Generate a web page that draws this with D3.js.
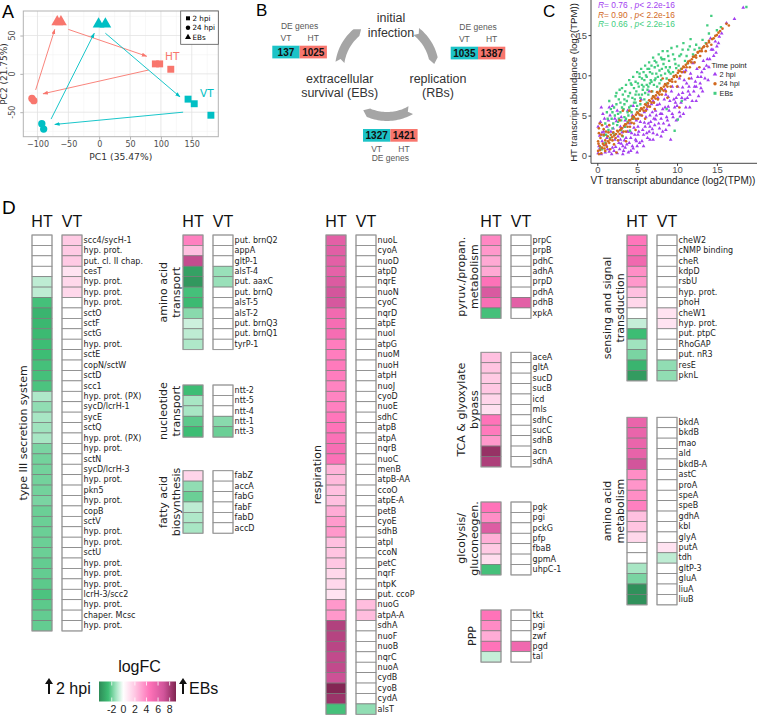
<!DOCTYPE html>
<html><head><meta charset="utf-8">
<script src="https://cdn.jsdelivr.net/npm/d3@7"></script>
<style>body{margin:0;background:#fff}svg{display:block}</style>
</head><body>
<svg id="c" width="757" height="716"></svg>
<script>
// ================= DATA =================
// Panel A: PCA
const pcaX    = [91, 98, 116, -109, -106, -68, -62, 144, 154, 181, -93, -90, -1, 10];
const pcaY    = [13, 13, 6, -32, -35, 68, 68, -33, -39, -54, -65, -72, 65, 65];
const pcaHost = ["HT","HT","HT","HT","HT","HT","HT","VT","VT","VT","VT","VT","VT","VT"];
const pcaTime = ["2 hpi","2 hpi","2 hpi","24 hpi","24 hpi","EBs","EBs","2 hpi","2 hpi","2 hpi","24 hpi","24 hpi","EBs","EBs"];
const pcaArrowFrom = [[-50,58],[80,5],[-103,-21],[10,53],[136,-50],[-78,-59]];
const pcaArrowTo   = [[77,23],[-91,-26],[-72,58],[131,-30],[-72,-66],[-8,53]];
const pcaArrowHost = ["HT","HT","HT","VT","VT","VT"];
const pcaXTicks = [-100,-50,0,50,100,150];
const pcaYTicks = [-50,0,50];
const timeLevels = ["2 hpi","24 hpi","EBs"];

// Panel B: DE genes
const deBoxVT = [137, 1035, 1327];
const deBoxHT = [1025, 1387, 1421];

// Panel C: transcript abundance (log2 TPM), VT (x) vs HT (y)
const sc2hpi = [[0.1,0.3],[0.2,1.2],[0.3,2.5],[0.1,3.6],[0.5,0.2],[0.6,1.8],[0.8,3.0],[0.7,5.2],[1.0,0.4],[1.2,2.2],[1.4,4.4],[1.5,6.0],[1.1,1.3],[1.8,0.2],[1.9,1.0],[2.0,3.4],[1.6,5.0],[0.4,4.2],[0.9,2.6],[2.2,2.0],
[2.5,0.3],[2.8,0.8],[3.0,1.5],[3.2,0.2],[3.5,1.0],[3.6,2.2],[3.9,0.4],[4.0,1.6],[4.3,2.8],[4.5,0.9],[4.6,3.5],[4.8,2.0],[5.0,1.2],[5.2,3.0],[5.4,4.2],[5.6,1.8],[5.8,2.6],[6.0,3.6],[6.1,4.8],[3.1,2.9],[2.6,2.4],[3.4,3.6],[4.1,4.0],[2.4,4.3],[3.0,4.8],
[6.3,2.2],[6.5,3.0],[6.7,4.2],[6.9,5.4],[7.0,2.8],[7.2,3.8],[7.4,5.0],[7.5,6.3],[7.8,3.4],[8.0,4.6],[8.2,5.8],[8.4,7.0],[8.6,3.2],[8.8,4.4],[9.0,5.6],[9.1,6.8],[9.3,8.0],[9.5,4.8],[9.7,6.0],[9.9,7.2],[10.1,8.6],[6.2,5.8],[6.8,6.4],[7.6,7.2],[8.5,8.2],[9.2,2.0],
[10.3,5.4],[10.5,6.6],[10.7,7.8],[10.9,9.4],[11.1,6.0],[11.3,7.2],[11.5,8.6],[11.7,10.2],[11.9,6.8],[12.1,8.0],[12.3,9.2],[12.5,10.8],[12.7,7.4],[12.9,9.0],[13.1,10.4],[13.3,11.8],[13.5,9.6],[13.8,12.0],[14.0,11.0],[14.3,13.2],[10.8,10.4],[12.0,11.5],
[14.6,12.4],[14.8,14.2],[15.0,13.6],[15.3,14.8],[15.6,15.2],[14.2,14.6],[16.2,16.5],[17.2,17.0],[18.3,18.4],[5.5,7.0],[6.5,8.0],[4.5,6.2],[3.8,5.6],
[1.3,0.8],[2.7,1.6],[3.3,0.6],[4.2,2.2],[5.1,2.6],[5.9,4.1],[6.6,3.6],[7.3,4.5],[8.1,5.2],[8.9,6.1],[9.8,6.6],[10.6,7.2],[11.4,8.0],[12.4,8.6],[13.0,9.8],[2.1,0.6],[3.7,1.4],[4.9,1.8],
[1.5,0.5],[2.3,1.1],[2.9,2.0],[3.4,1.9],[3.8,3.0],[4.4,1.2],[4.7,2.6],[5.1,3.6],[5.3,1.6],[5.7,3.2],[6.2,2.8],[6.4,4.0],[6.6,5.0],[6.9,3.3],[7.1,4.6],[7.3,5.6],[7.7,4.0],[7.9,5.2],[8.3,4.0],[8.5,6.0],
[8.7,4.8],[8.9,7.3],[9.4,5.2],[9.6,7.0],[10.0,6.2],[10.2,7.6],[10.4,4.9],[10.7,8.5],[11.0,7.0],[11.2,9.0],[11.6,7.6],[11.8,9.6],[12.2,8.6],[12.6,9.8],[13.0,8.4],[13.4,10.8],[13.7,11.2],[14.1,12.0],[14.5,13.2],[14.9,12.8],
[15.2,14.0],[0.3,0.9],[0.6,2.9],[0.9,4.6],[1.2,3.6],[1.7,3.0],[2.2,4.6],[2.5,5.6],[1.9,6.2],[0.5,6.0],[2.9,3.6],[3.5,4.4],[4.0,3.0],[4.4,5.0],[4.9,4.4],[5.5,5.0],[5.9,5.4],[6.4,6.2],[7.0,6.8],[7.8,6.4],
[8.6,7.6],[9.4,8.6],[10.3,9.6],[11.1,10.6],[3.2,1.2],[4.2,0.6],[5.0,0.4],[5.8,1.2],[6.6,2.0],[7.5,2.6],[8.2,3.0],[9.0,3.8],[9.9,4.4],[10.8,5.2],[11.6,6.0],[12.4,6.8],[13.2,8.0],[13.9,9.4],[8.0,2.4],[7.0,2.0]];
const scEBs = [[0.8,2.5],[1.0,4.0],[1.2,5.4],[1.4,3.2],[1.5,6.8],[1.8,4.6],[2.0,2.8],[2.1,6.0],[2.3,7.4],[2.5,3.8],[2.6,5.2],[2.8,8.2],[2.9,6.6],[3.0,4.4],[3.2,7.6],[3.3,5.8],[3.5,3.6],[3.6,8.8],[3.7,6.8],[3.9,5.0],
[4.0,9.4],[4.1,7.8],[4.2,6.2],[4.4,4.8],[4.5,9.8],[4.6,8.4],[4.7,7.0],[4.9,5.8],[5.0,10.4],[5.1,9.0],[5.2,7.6],[5.4,6.4],[5.5,10.8],[5.6,9.6],[5.7,8.2],[5.9,7.0],[6.0,11.2],[6.1,10.0],[6.2,8.8],[6.4,7.6],
[6.5,11.6],[6.6,10.4],[6.8,9.2],[6.9,8.0],[7.0,12.2],[7.2,11.0],[7.3,9.6],[7.5,8.6],[7.7,12.6],[7.8,10.6],[8.0,9.4],[8.2,13.0],[8.3,11.4],[8.5,10.2],[8.7,9.6],[8.9,12.4],[9.1,11.0],[9.3,13.4],[9.5,10.4],[9.7,12.0],
[10.0,13.6],[10.2,11.2],[10.5,12.6],[10.8,14.0],[11.0,11.8],[11.4,13.2],[11.7,14.5],[12.0,12.6],[12.4,13.8],[12.8,13.4],[13.2,14.4],[13.6,14.0],[14.0,15.2],[14.3,17.4],[13.8,16.2],[15.0,15.6],[15.5,16.0],[18.7,18.5],
[0.4,1.0],[0.6,0.8],[1.0,1.6],[1.6,2.2],[2.2,2.6],[3.0,3.2],[3.8,4.2],[4.5,4.6],[5.3,5.6],[6.2,6.6],[7.0,7.4],[7.9,8.2],[8.8,9.0],[9.6,9.8],[10.5,10.8],[11.3,11.5],[12.2,12.4],
[9.7,3.1],[10.1,4.5],[8.7,5.8],[10.6,6.8],[4.1,3.1],[3.2,2.4],
[2.4,6.4],[3.4,7.0],[4.3,8.8],[5.3,9.8],[6.3,10.8],[7.4,11.6],[8.1,12.0],[3.1,6.0],[4.8,7.6],[5.8,8.6],[6.7,9.4],[1.9,5.4],[2.7,4.6],[3.8,5.4],[7.6,9.8],[9.0,10.4],
[1.3,4.6],[1.7,5.8],[2.0,4.0],[2.2,5.0],[2.4,7.8],[2.7,7.0],[2.9,5.4],[3.1,8.4],[3.4,6.4],[3.5,8.0],[3.6,4.6],[3.9,7.4],[4.0,6.0],[4.2,9.0],[4.3,5.4],[4.4,7.2],[4.6,6.6],[4.8,9.2],[4.9,8.0],[5.0,6.2],
[5.2,8.6],[5.3,10.2],[5.4,7.2],[5.6,8.8],[5.8,10.4],[5.9,9.4],[6.0,7.8],[6.2,9.8],[6.3,8.2],[6.5,10.8],[6.6,9.0],[6.8,11.2],[6.9,10.2],[7.1,8.8],[7.2,11.8],[7.4,10.2],[7.6,11.2],[7.8,9.0],[8.0,12.2],[8.1,10.8],
[8.4,12.0],[8.6,11.0],[8.8,13.0],[9.0,11.8],[9.2,10.2],[9.5,12.6],[9.8,11.4],[10.3,12.4],[10.7,13.2],[11.2,12.4],[11.6,13.6],[12.2,13.2],[1.1,2.6],[1.9,3.4],[2.6,4.2],[3.4,4.8],[4.1,5.6],[4.8,6.6],[5.6,7.6],[6.4,8.6],
[7.2,9.4],[8.0,10.0],[8.9,10.6],[9.9,10.9]];
const sc24hpi = [[0.1,0.6],[0.1,1.8],[0.2,2.8],[0.2,3.4],[0.3,1.2],[0.4,2.2],[0.5,0.3],[0.6,3.8],[0.7,1.5],[0.8,2.6],[0.9,0.9],[1.0,1.9],[1.1,3.0],[1.2,1.1],[1.3,2.4],[1.5,1.6],[1.6,0.8],[1.7,2.6],[1.9,1.9],[2.0,2.9],
[2.1,1.4],[2.3,2.2],[2.5,3.1],[2.6,1.9],[2.8,2.7],[3.0,3.4],[3.1,2.5],[3.3,3.0],[3.5,3.9],[3.6,3.0],[3.8,3.6],[4.0,4.4],[4.1,3.6],[4.3,4.1],[4.5,4.9],[4.6,4.0],[4.8,4.6],[5.0,5.4],[5.1,4.6],[5.3,5.1],
[5.5,5.9],[5.6,5.0],[5.8,5.6],[6.0,6.4],[6.1,5.6],[6.3,6.1],[6.5,6.9],[6.6,6.1],[6.8,6.6],[7.0,7.4],[7.1,6.6],[7.3,7.1],[7.5,7.9],[7.6,7.0],[7.8,7.6],[8.0,8.4],[8.1,7.6],[8.3,8.1],[8.5,8.9],[8.6,8.0],
[8.8,8.6],[9.0,9.4],[9.2,8.6],[9.4,9.2],[9.6,9.9],[9.8,9.2],[10.0,9.8],[10.2,10.6],[10.4,9.9],[10.6,10.4],[10.8,11.1],[11.0,10.4],[11.2,11.0],[11.4,11.7],[11.6,11.0],[11.8,11.6],[12.0,12.3],[12.2,11.6],[12.4,12.2],[12.6,12.9],
[12.9,12.4],[13.1,13.0],[13.3,13.5],[13.6,13.0],[13.8,13.6],[14.0,14.3],[14.3,13.8],[14.6,14.6],[15.0,15.0],[15.4,15.5],[16.2,16.4],[16.5,16.2],
[2.4,0.4],[3.6,1.8],[4.8,3.2],[6.0,4.6],[7.2,5.8],[8.8,7.2],[10.0,8.6],[10.3,6.0],[11.5,9.6],[12.8,11.0],[1.5,3.8],[2.8,4.4],[4.0,5.6],[5.4,6.8],[6.8,8.0],[8.2,9.6],[3.2,5.6],
[0.35,0.7],[0.6,1.0],[0.85,1.3],[1.1,1.5],[1.35,1.8],[1.6,2.0],[1.85,2.3],[2.1,2.5],[2.35,2.7],[2.6,3.0],[2.85,3.2],[3.1,3.4],[3.35,3.7],[3.6,3.9],[3.85,4.1],[4.1,4.4],[4.35,4.6],[4.6,4.8],[4.85,5.1],[5.1,5.3],
[5.35,5.6],[5.6,5.8],[5.85,6.0],[6.1,6.3],[6.35,6.5],[6.6,6.8],[6.85,7.1],[7.1,7.3],[7.35,7.5],[7.6,7.8],[7.85,8.0],[8.1,8.3],[8.35,8.6],[8.6,8.8],[8.85,9.0],[9.1,9.3],[9.35,9.5],[9.6,9.8],[9.85,10.0],[10.1,10.3],
[10.35,10.5],[10.6,10.8],[10.85,11.0],[11.1,11.3],[11.35,11.5],[11.6,11.8],[11.85,12.0],[12.1,12.3],[12.35,12.5],[12.6,12.8],[12.85,13.0],[13.1,13.3],[13.4,13.6],[13.7,13.9],[14.0,14.1],[14.4,14.5],[14.8,14.9],[15.2,15.3],[15.7,15.8],
[0.2,0.2],[0.3,4.0],[0.5,2.6],[0.8,3.3],[1.0,0.6],[1.4,2.9],[0.15,1.5]];
const corrR = ["0.76","0.90","0.66"];
const scXTicks = [0,5,10,15];
const scYTicks = [0,5,10,15];

// Panel D: logFC heatmaps (HT, VT)
const t3Genes = ["scc4/sycH-1","hyp. prot.","put. cl. II chap.","cesT","hyp. prot.","hyp. prot.","hyp. prot.","sctO","sctF","sctG","hyp. prot.","sctE","copN/sctW","sctD","scc1","hyp. prot. (PX)","sycD/lcrH-1","sycE","sctQ","hyp. prot. (PX)","hyp. prot.","sctN","sycD/lcrH-3","hyp. prot.","pkn5","hyp. prot.","copB","sctV","hyp. prot.","hyp. prot.","sctU","hyp. prot.","hyp. prot.","hyp. prot.","lcrH-3/scc2","hyp. prot.","chaper. Mcsc","hyp. prot."];
const t3HT = [0,0,0,0,-0.9,-0.9,-2.5,-2.9,-2.8,-2.7,-2.6,-2.6,-2.5,-2.5,-2.4,-1.1,-1.5,-1.2,-1.3,-1.2,-1.8,-1.9,-1.9,-1.9,-1.9,-1.8,-2.0,-2.0,-2.0,-2.0,-2.0,-2.1,-2.1,-2.2,-2.4,-2.2,-2.1,-2.1];
const t3VT = [1.9,1.9,1.9,1.0,1.4,1.4,0,0,0,0,0,0,0,0,0,0,0,0,0,0,0,0,0,0,0,0,0,0,0,0,0,0,0,0,0,0,0,0];

const aatGenes = ["put. brnQ2","appA","gltP-1","alsT-4","put. aaxC","put. brnQ","alsT-5","alsT-2","put. brnQ3","put. brnQ1","tyrP-1"];
const aatHT = [4.1,2.2,7.3,-3.5,-3.8,-2.5,-2.7,-1.6,-0.7,-0.9,-1.1];
const aatVT = [0,0,0,-1.4,-1.4,0,0,0,0,0,0];

const nucGenes = ["ntt-2","ntt-5","ntt-4","ntt-1","ntt-3"];
const nucHT = [-2.6,-1.2,-1.2,-2.2,-2.6];
const nucVT = [0,0,0,-1.6,-2.0];

const fatGenes = ["fabZ","accA","fabG","fabF","fabD","accD"];
const fatHT = [1.5,-1.5,-2.0,-0.9,-1.1,-1.2];
const fatVT = [0,0,0,0,0,0];

const resGenes = ["nuoL","cyoA","nuoD","atpD","nqrE","nuoN","cyoC","nqrD","atpE","nuoI","atpG","nuoM","nuoH","atpH","nuoJ","cyoD","nuoE","sdhC","atpB","atpA","nqrB","nuoC","menB","atpB-AA","ccoO","atpE-A","petB","cyoE","sdhB","atpI","ccoN","petC","nqrF","ntpK","put. ccoP","nuoG","atpA-A","sdhA","nuoF","nuoB","nqrC","nuoA","cydB","cyoB","cydA","alsT"];
const resHT = [6.0,6.1,6.0,5.9,6.4,6.8,6.7,5.2,5.0,5.0,4.2,4.2,4.3,4.2,4.0,4.0,4.1,4.4,4.5,4.7,4.9,4.7,2.6,2.4,2.2,2.2,2.8,3.3,3.4,2.2,2.1,2.0,1.4,1.4,1.0,3.4,3.4,7.8,7.7,7.6,7.4,7.4,7.1,9.0,8.4,-2.5];
const resVT = [0,0,0,0,0,0,0,0,0,0,0,0,0,0,0,0,0,0,0,0,0,0,0,0,0,0,0,0,0,0,0,0,0,0,0,2.3,2.3,0,0,0,0,0,0,0,0,-1.5];

const pyrGenes = ["prpC","prpB","pdhC","adhA","prpD","pdhA","pdhB","xpkA"];
const pyrHT = [3.9,3.4,2.9,2.9,4.6,6.5,4.8,-2.5];
const pyrVT = [0,0,0,0,0,0,6.0,0];

const tcaGenes = ["aceA","gltA","sucD","sucB","icd","mls","sdhC","sucC","sdhB","acn","sdhA"];
const tcaHT = [2.2,2.1,1.9,2.0,1.5,1.1,4.5,4.3,3.4,8.5,7.9];
const tcaVT = [0,0,0,0,0,0,0,0,0,0,0];

const glyGenes = ["pgk","pgi","pckG","pfp","fbaB","gpmA","uhpC-1"];
const glyHT = [4.5,3.7,6.3,2.7,1.9,1.2,-2.5];
const glyVT = [0,0,0,0,0,0,0];

const pppGenes = ["tkt","pgi","zwf","pgd","tal"];
const pppHT = [4.5,3.8,2.8,4.5,-0.8];
const pppVT = [0,0,0,5.3,0];

const senGenes = ["cheW2","cNMP binding","cheR","kdpD","rsbU","hyp. prot.","phoH","cheW1","hyp. prot.","put. ptpC","RhoGAP","put. nR3","resE","pknL"];
const senHT = [4.4,4.7,5.3,3.7,3.4,2.2,1.4,0,-0.8,-2.6,-1.3,-1.8,-2.9,-3.7];
const senVT = [0,0,0,0,0,0,0,1.0,1.0,0,0,0,-1.5,-1.5];

const aamGenes = ["bkdA","bkdB","mao","ald","bkdB-A","astC","proA","speA","speB","gdhA","kbl","glyA","putA","tdh","gltP-3","gluA","liuA","liuB"];
const aamHT = [5.6,5.6,5.6,5.8,6.9,3.7,3.5,3.7,4.1,2.2,2.1,1.4,0,0,-1.2,-1.8,-4.0,-4.0];
const aamVT = [0,0,0,0,0,0,0,0,0,0,0,0,1.0,-0.9,0,0,0,0];

const legendTicks = [-2,0,2,4,6,8];
const logFCLimits = [-4.2, 9.1];

// ================= DRAWING =================
const svg = d3.select("#c");
const defs = svg.append("defs");
const FV = "'DejaVu Sans', Verdana, sans-serif";
const FA = "'Liberation Sans', Arial, sans-serif";
const hostColor = d3.scaleOrdinal().domain(["HT","VT"]).range(["#f8766d","#00bfc4"]);

function letter(t, x, y, s) {
  svg.append("text").attr("x", x).attr("y", y).attr("font-family", FA)
    .attr("font-size", s).attr("fill", "#000").text(t);
}

// ---------- Panel A ----------
(function(){
  const x = d3.scaleLinear().domain([-123,193]).range([23.3,218.3]);
  const y = d3.scaleLinear().domain([-82,82]).range([136.7,11]);
  const g = svg.append("g");
  const minorX = [-75,-25,25,75,125,175], minorY = [-75,-25,25,75];
  g.selectAll(".mx").data(minorX).join("line").attr("x1",x).attr("x2",x).attr("y1",y.range()[1]).attr("y2",y.range()[0]).attr("stroke","#f0f0f0").attr("stroke-width",0.5);
  g.selectAll(".my").data(minorY).join("line").attr("y1",y).attr("y2",y).attr("x1",x.range()[0]).attr("x2",x.range()[1]).attr("stroke","#f0f0f0").attr("stroke-width",0.5);
  g.selectAll(".Mx").data(pcaXTicks).join("line").attr("x1",x).attr("x2",x).attr("y1",y.range()[1]).attr("y2",y.range()[0]).attr("stroke","#e2e2e2").attr("stroke-width",0.8);
  g.selectAll(".My").data(pcaYTicks).join("line").attr("y1",y).attr("y2",y).attr("x1",x.range()[0]).attr("x2",x.range()[1]).attr("stroke","#e2e2e2").attr("stroke-width",0.8);
  g.append("rect").attr("x",23.3).attr("y",11).attr("width",195).attr("height",125.7).attr("fill","none").attr("stroke","#b3b3b3").attr("stroke-width",1);
  const ax = g.append("g").attr("transform","translate(0,136.7)").call(d3.axisBottom(x).tickValues(pcaXTicks).tickSize(3).tickPadding(2));
  ax.select(".domain").remove();
  ax.selectAll("line").attr("stroke","#b3b3b3");
  ax.selectAll("text").attr("font-family",FV).attr("font-size",8).attr("fill","#4d4d4d");
  const ay = g.append("g").attr("transform","translate(23.3,0)").call(d3.axisLeft(y).tickValues(pcaYTicks).tickSize(3).tickFormat(""));
  ay.select(".domain").remove();
  ay.selectAll("line").attr("stroke","#b3b3b3");
  g.selectAll(".ytl").data(pcaYTicks).join("text").attr("transform",d=>`translate(15,${y(d)}) rotate(-90)`)
    .attr("text-anchor","middle").attr("font-family",FV).attr("font-size",8).attr("fill","#4d4d4d").text(d=>d);
  g.append("text").attr("x",120.8).attr("y",159.5).attr("text-anchor","middle").attr("font-family",FV).attr("font-size",9.2).attr("fill","#333").text("PC1 (35.47%)");
  g.append("text").attr("transform","translate(7,74) rotate(-90)").attr("text-anchor","middle").attr("font-family",FV).attr("font-size",9).attr("fill","#333").text("PC2 (21.75%)");
  // arrows
  ["HT","VT"].forEach(h=>{
    defs.append("marker").attr("id","ar"+h).attr("viewBox","0 0 10 10").attr("refX",9).attr("refY",5)
      .attr("markerWidth",6).attr("markerHeight",6).attr("orient","auto")
      .append("path").attr("d","M0,1.5L10,5L0,8.5Z").attr("fill",hostColor(h));
  });
  g.selectAll(".arr").data(pcaArrowHost).join("line")
    .attr("x1",(d,i)=>x(pcaArrowFrom[i][0])).attr("y1",(d,i)=>y(pcaArrowFrom[i][1]))
    .attr("x2",(d,i)=>x(pcaArrowTo[i][0])).attr("y2",(d,i)=>y(pcaArrowTo[i][1]))
    .attr("stroke",d=>hostColor(d)).attr("stroke-width",0.9).attr("marker-end",d=>`url(#ar${d})`);
  const shape = d3.scaleOrdinal().domain(timeLevels).range([d3.symbolSquare,d3.symbolCircle,d3.symbolTriangle]);
  const size = d3.scaleOrdinal().domain(timeLevels).range([48,42,60]);
  g.selectAll(".pt").data(pcaX).join("path")
    .attr("transform",(d,i)=>`translate(${x(d)},${y(pcaY[i])})`)
    .attr("d",(d,i)=>d3.symbol().type(shape(pcaTime[i])).size(size(pcaTime[i]))())
    .attr("fill",(d,i)=>hostColor(pcaHost[i]));
  g.append("text").attr("x",165).attr("y",60).attr("font-family",FV).attr("font-size",10.5).attr("fill",hostColor("HT")).text("HT");
  g.append("text").attr("x",200).attr("y",96.5).attr("font-family",FV).attr("font-size",10.5).attr("fill",hostColor("VT")).text("VT");
  // legend
  g.append("rect").attr("x",180.7).attr("y",11).attr("width",37.6).attr("height",33.3).attr("fill","#fff").attr("stroke","#555").attr("stroke-width",0.8);
  timeLevels.forEach((t,i)=>{
    const yy = 18.3 + i*9.5;
    g.append("path").attr("transform",`translate(188,${yy})`).attr("d",d3.symbol().type(shape(t)).size(16)()).attr("fill","#000");
    g.append("text").attr("x",192.5).attr("y",yy+2.6).attr("font-family",FV).attr("font-size",7.2).attr("fill","#000").text(t);
  });
  letter("A", 2, 18, 18);
})();

// ---------- Panel B ----------
(function(){
  const g = svg.append("g");
  const cx = 387, cy = 69, r0 = 43, r1 = 52;
  const rad = d=>d*Math.PI/180;
  const P = (a,r)=>[cx + r*Math.sin(rad(a)), cy - r*Math.cos(rad(a))];
  function arrowArc(a0,a1){
    const tip = 7, notch = 4, pts = [];
    const aE = a1 - tip;
    for (let a=a0; a<aE; a+=2) pts.push(P(a,r1));
    pts.push(P(aE,r1)); pts.push(P(a1,(r0+r1)/2)); pts.push(P(aE,r0));
    for (let a=aE; a>a0; a-=2) pts.push(P(a,r0));
    pts.push(P(a0,r0)); pts.push(P(a0+notch,(r0+r1)/2));
    return "M" + pts.map(p=>p[0].toFixed(2)+","+p[1].toFixed(2)).join("L") + "Z";
  }
  [[-82,-33],[38,84],[150,210]].forEach(a=>{
    g.append("path").attr("d",arrowArc(a[0],a[1])).attr("fill","#a5a5a5");
  });
  const tx = (t,x,y,s,fill,anchor,weight)=>g.append("text").attr("x",x).attr("y",y).attr("font-family",FA)
      .attr("font-size",s).attr("fill",fill).attr("text-anchor",anchor||"middle").attr("font-weight",weight||"normal").text(t);
  tx("initial",391,21.5,12.5,"#333"); tx("infection",391,37,12.5,"#333");
  tx("extracellular",339.7,83,12.5,"#333"); tx("survival (EBs)",339.7,97,12.5,"#333");
  tx("replication",438,83,12.5,"#333"); tx("(RBs)",438,97,12.5,"#333");
  const boxes = [{x:272.3,y:45.7,above:true},{x:450.7,y:46.7,above:true},{x:363,y:129,above:false}];
  const bw = 27.3, bh = 12.7;
  boxes.forEach((b,i)=>{
    g.append("rect").attr("x",b.x).attr("y",b.y).attr("width",bw).attr("height",bh).attr("fill","#1cc3c7");
    g.append("rect").attr("x",b.x+bw).attr("y",b.y).attr("width",bw).attr("height",bh).attr("fill","#f8766d");
    tx(deBoxVT[i], b.x+bw/2, b.y+bh/2+3.6, 10, "#111","middle","bold");
    tx(deBoxHT[i], b.x+bw*1.5, b.y+bh/2+3.6, 10, "#111","middle","bold");
    if (b.above){
      tx("DE genes", b.x+bw, b.y-16.5, 8.5, "#595959");
      tx("VT", b.x+bw/2, b.y-5, 8.5, "#595959");
      tx("HT", b.x+bw*1.5, b.y-5, 8.5, "#595959");
    } else {
      tx("VT", b.x+bw/2, b.y+bh+10, 8.5, "#595959");
      tx("HT", b.x+bw*1.5, b.y+bh+10, 8.5, "#595959");
      tx("DE genes", b.x+bw, b.y+bh+19, 8.5, "#595959");
    }
  });
  letter("B", 256, 16, 17);
})();

// ---------- Panel C ----------
(function(){
  const g = svg.append("g");
  const x = d3.scaleLinear().domain([0,15]).range([597.3,716.9]);
  const y = d3.scaleLinear().domain([0,15]).range([155.7,35.1]);
  const colors = d3.scaleOrdinal().domain(timeLevels).range(["#a33ef0","#d2691e","#43cd80"]);
  const shape = d3.scaleOrdinal().domain(timeLevels).range([d3.symbolTriangle,d3.symbolCircle,d3.symbolSquare]);
  defs.append("clipPath").attr("id","clipC").append("rect").attr("x",591).attr("y",0).attr("width",166).attr("height",163.3);
  const pg = g.append("g").attr("clip-path","url(#clipC)");
  const series = [["2 hpi",sc2hpi],["EBs",scEBs],["24 hpi",sc24hpi]];
  series.forEach(([t,pts])=>{
    pg.selectAll(null).data(pts).join("path")
      .attr("transform",d=>`translate(${x(d[0])},${y(d[1])})`)
      .attr("d",d3.symbol().type(shape(t)).size(t==="2 hpi"?6:5.5)())
      .attr("fill",colors(t));
  });
  g.append("line").attr("x1",591).attr("x2",591).attr("y1",0).attr("y2",163.3).attr("stroke","#333").attr("stroke-width",0.9);
  g.append("line").attr("x1",591).attr("x2",757).attr("y1",163.3).attr("y2",163.3).attr("stroke","#333").attr("stroke-width",0.9);
  const ax = g.append("g").attr("transform","translate(0,163.3)").call(d3.axisBottom(x).tickValues(scXTicks).tickSize(2.5).tickPadding(0.5));
  ax.select(".domain").remove();
  ax.selectAll("line").attr("stroke","#333");
  ax.selectAll("text").attr("font-family",FA).attr("font-size",9.5).attr("fill","#4d4d4d");
  const ay = g.append("g").attr("transform","translate(591,0)").call(d3.axisLeft(y).tickValues(scYTicks).tickSize(2.5).tickPadding(1.5));
  ay.select(".domain").remove();
  ay.selectAll("line").attr("stroke","#333");
  ay.selectAll("text").attr("font-family",FA).attr("font-size",9.5).attr("fill","#4d4d4d");
  g.append("text").attr("x",673).attr("y",183.5).attr("text-anchor","middle").attr("font-family",FA).attr("font-size",10).attr("fill","#222").text("VT transcript abundance (log2(TPM))");
  g.append("text").attr("transform","translate(576.5,82.5) rotate(-90)").attr("text-anchor","middle").attr("font-family",FA).attr("font-size",9.6).attr("fill","#222").text("HT transcript abundance (log2(TPM))");
  timeLevels.forEach((t,i)=>{
    const tt = g.append("text").attr("x",598).attr("y",8.3+i*9.3).attr("font-family",FA).attr("font-size",8.4).attr("fill",colors(t));
    tt.append("tspan").attr("font-style","italic").text("R");
    tt.append("tspan").text("= " + corrR[i] + " , ");
    tt.append("tspan").attr("font-style","italic").text("p");
    tt.append("tspan").text("< 2.2e-16");
  });
  g.append("text").attr("x",711.5).attr("y",68.3).attr("font-family",FA).attr("font-size",7.6).attr("fill","#222").text("Time point");
  timeLevels.forEach((t,i)=>{
    const yy = 74.3 + i*9.5;
    g.append("path").attr("transform",`translate(715,${yy})`).attr("d",d3.symbol().type(shape(t)).size(9)()).attr("fill",colors(t));
    g.append("text").attr("x",719.5).attr("y",yy+2.6).attr("font-family",FA).attr("font-size",7.4).attr("fill","#222").text(t);
  });
  letter("C", 543, 17, 17);
})();

// ---------- Panel D ----------
(function(){
  const g = svg.append("g");
  const color = d3.scaleLinear()
    .domain([-4.2,-2.6,-1.2,0,2,4.5,7,9.1])
    .range(["#2e8b57","#3dbd74","#a8e6c4","#ffffff","#ffc7e3","#ff73b9","#d0549a","#7f2450"])
    .clamp(true);
  const ROW = 10.42, CW = 20, GAP = 10;
  const layout = [
    {lab:["type III secretion system"], genes:t3Genes, ht:t3HT, vt:t3VT, x:32, y:235, head:true},
    {lab:["amino acid","transport"], genes:aatGenes, ht:aatHT, vt:aatVT, x:183, y:235, head:true},
    {lab:["nucleotide","transport"], genes:nucGenes, ht:nucHT, vt:nucVT, x:183, y:385},
    {lab:["fatty acid","biosynthesis"], genes:fatGenes, ht:fatHT, vt:fatVT, x:183, y:470.7},
    {lab:["respiration"], genes:resGenes, ht:resHT, vt:resVT, x:326, y:235, head:true},
    {lab:["pyruv./propan.","metabolism"], genes:pyrGenes, ht:pyrHT, vt:pyrVT, x:481, y:235, head:true},
    {lab:["TCA & glyoxylate","bypass"], genes:tcaGenes, ht:tcaHT, vt:tcaVT, x:481, y:352.3},
    {lab:["glcolysis/","gluconeogen."], genes:glyGenes, ht:glyHT, vt:glyVT, x:481, y:502},
    {lab:["PPP"], genes:pppGenes, ht:pppHT, vt:pppVT, x:481, y:610},
    {lab:["sensing and signal","transduction"], genes:senGenes, ht:senHT, vt:senVT, x:627, y:235, head:true},
    {lab:["amino acid","metabolism"], genes:aamGenes, ht:aamHT, vt:aamVT, x:627, y:417.3}
  ];
  layout.forEach(L=>{
    const n = L.genes.length;
    const yS = d3.scaleBand().domain(d3.range(n)).range([L.y, L.y + ROW*n]);
    const xS = d3.scaleBand().domain(["HT","VT"]).range([L.x, L.x + 2*CW + GAP]).paddingInner(1/3);
    const gg = g.append("g");
    [["HT",L.ht],["VT",L.vt]].forEach(([col,vals])=>{
      gg.selectAll(null).data(vals).join("rect")
        .attr("x",xS(col)).attr("y",(d,i)=>yS(i)).attr("width",xS.bandwidth()).attr("height",yS.bandwidth())
        .attr("fill",d=>color(d)).attr("stroke","#7a7a7a").attr("stroke-width",0.7);
      gg.append("rect").attr("x",xS(col)).attr("y",L.y).attr("width",xS.bandwidth()).attr("height",ROW*n)
        .attr("fill","none").attr("stroke","#9a9a9a").attr("stroke-width",0.9);
    });
    gg.selectAll(null).data(L.genes).join("text")
      .attr("x", L.x + 2*CW + GAP + 1.6).attr("y",(d,i)=>yS(i)+yS.bandwidth()/2)
      .attr("dominant-baseline","central").attr("font-family",FV).attr("font-size",8).attr("fill","#222").text(d=>d);
    const cyL = L.y + ROW*n/2;
    const offs = L.lab.length === 2 ? [-19.5,-7] : [-9];
    L.lab.forEach((t,k)=>{
      gg.append("text").attr("transform",`translate(${L.x+offs[k]},${cyL}) rotate(-90)`)
        .attr("text-anchor","middle").attr("dominant-baseline","central")
        .attr("font-family",FV).attr("font-size",11).attr("fill","#222").text(t);
    });
    if (L.head){
      ["HT","VT"].forEach(col=>{
        gg.append("text").attr("x",xS(col)+xS.bandwidth()/2).attr("y",L.y-8).attr("text-anchor","middle")
          .attr("font-family",FA).attr("font-size",16).attr("fill","#111").text(col);
      });
    }
  });
  // colour legend
  const xL = d3.scaleLinear().domain(logFCLimits).range([99,176]);
  const grad = defs.append("linearGradient").attr("id","lfc").attr("x1","0%").attr("x2","100%").attr("y1","0%").attr("y2","0%");
  d3.range(0,1.0001,0.02).forEach(f=>{
    const v = logFCLimits[0] + f*(logFCLimits[1]-logFCLimits[0]);
    grad.append("stop").attr("offset",(f*100)+"%").attr("stop-color",color(v));
  });
  g.append("rect").attr("x",99).attr("y",681.5).attr("width",77).attr("height",20).attr("fill","url(#lfc)");
  g.selectAll(".lt").data(legendTicks).join("line").attr("x1",xL).attr("x2",xL).attr("y1",697.5).attr("y2",701.5).attr("stroke","#fff").attr("stroke-width",0.8);
  g.selectAll(".lt2").data(legendTicks).join("line").attr("x1",xL).attr("x2",xL).attr("y1",681.5).attr("y2",685.5).attr("stroke","#fff").attr("stroke-width",0.8);
  g.selectAll(".ltt").data(legendTicks).join("text").attr("x",xL).attr("y",712.5).attr("text-anchor","middle")
    .attr("font-family",FA).attr("font-size",10.5).attr("fill","#222").text(d=>d);
  g.append("text").attr("x",139.5).attr("y",672).attr("text-anchor","middle").attr("font-family",FA).attr("font-size",16).attr("fill","#111").text("logFC");
  function upArrow(xx, ytop, ybot){
    g.append("line").attr("x1",xx).attr("x2",xx).attr("y1",ytop+5).attr("y2",ybot).attr("stroke","#111").attr("stroke-width",2);
    g.append("path").attr("d",`M${xx-4},${ytop+6}L${xx},${ytop}L${xx+4},${ytop+6}Z`).attr("fill","#111");
  }
  upArrow(49, 678, 694);
  g.append("text").attr("x",56).attr("y",693.5).attr("font-family",FA).attr("font-size",16).attr("fill","#111").text("2 hpi");
  upArrow(183, 678, 694);
  g.append("text").attr("x",189).attr("y",693.5).attr("font-family",FA).attr("font-size",16).attr("fill","#111").text("EBs");
  letter("D", 2, 214, 19);
})();
</script>
</body></html>
